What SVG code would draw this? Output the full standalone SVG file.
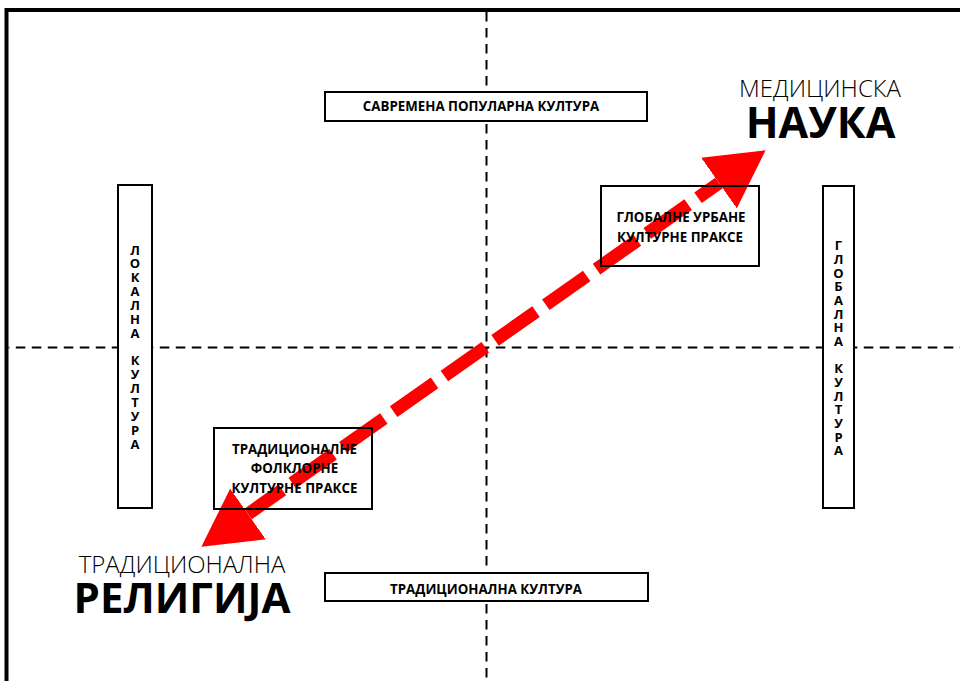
<svg xmlns="http://www.w3.org/2000/svg" width="960" height="681" viewBox="0 0 960 681">
<style>
.frame{fill:none;stroke:#000;stroke-width:4}
.axis{fill:none;stroke:#000;stroke-width:2;stroke-dasharray:9.5 6.5}
.box{fill:#fff;stroke:#000;stroke-width:2}
.box2{fill:none;stroke:#000;stroke-width:2}
.lbl{font-family:"Open Sans","DejaVu Sans",sans-serif;font-weight:bold;font-size:13.3px;fill:#000;text-anchor:middle}
.vl{font-family:"Open Sans","DejaVu Sans",sans-serif;font-weight:bold;font-size:13px;fill:#000;text-anchor:middle}
.thin{font-family:"Open Sans","DejaVu Sans",sans-serif;font-weight:300;font-size:24px;fill:#000;text-anchor:middle}
.big{font-family:"Open Sans","DejaVu Sans",sans-serif;font-weight:bold;font-size:43px;fill:#000;text-anchor:middle}
.big2{font-size:42px}
.arrow{fill:none;stroke:#ff0000;stroke-width:13;stroke-dasharray:50 12;stroke-dashoffset:8}
</style>
<defs>
<marker id="head" markerUnits="userSpaceOnUse" viewBox="0 -31 57 62" refX="0" refY="0" markerWidth="57" markerHeight="62" orient="auto-start-reverse">
<path d="M0,-31 L57,0 L0,31 Z" fill="#ff0000"/>
</marker>
</defs>
<rect width="960" height="681" fill="#fff"/>
<path class="frame" d="M6.5,700 V10 H980"/>
<g id="axes">
<line class="axis" x1="486.5" y1="12" x2="486.5" y2="681"/>
<line class="axis" x1="8.5" y1="347.5" x2="960" y2="347.5" style="stroke-dashoffset:8.7"/>
</g>
<g id="n-savremena">
<rect class="box" x="325" y="92" width="322" height="29"/>
<text class="lbl" x="481" y="110.5">САВРЕМЕНА ПОПУЛАРНА КУЛТУРА</text>
</g>
<g id="n-tradicionalna-kultura">
<rect class="box" x="325" y="573" width="323" height="28"/>
<text class="lbl" x="486" y="593.5">ТРАДИЦИОНАЛНА КУЛТУРА</text>
</g>
<g id="n-lokalna">
<rect class="box" x="118" y="185" width="34" height="323"/>
<text class="vl"><tspan x="135" y="254.5">Л</tspan><tspan x="135" y="268.4">О</tspan><tspan x="135" y="282.2">К</tspan><tspan x="135" y="296.1">А</tspan><tspan x="135" y="309.9">Л</tspan><tspan x="135" y="323.8">Н</tspan><tspan x="135" y="337.7">А</tspan><tspan x="135" y="365.4">К</tspan><tspan x="135" y="379.2">У</tspan><tspan x="135" y="393.1">Л</tspan><tspan x="135" y="406.9">Т</tspan><tspan x="135" y="420.8">У</tspan><tspan x="135" y="434.6">Р</tspan><tspan x="135" y="448.5">А</tspan></text>
</g>
<g id="n-globalna">
<rect class="box" x="823" y="186" width="31" height="322"/>
<text class="vl"><tspan x="838.5" y="250.3">Г</tspan><tspan x="838.5" y="264">Л</tspan><tspan x="838.5" y="277.6">О</tspan><tspan x="838.5" y="291.3">Б</tspan><tspan x="838.5" y="305">А</tspan><tspan x="838.5" y="318.7">Л</tspan><tspan x="838.5" y="332.3">Н</tspan><tspan x="838.5" y="346">А</tspan><tspan x="838.5" y="373.4">К</tspan><tspan x="838.5" y="387">У</tspan><tspan x="838.5" y="400.7">Л</tspan><tspan x="838.5" y="414.4">Т</tspan><tspan x="838.5" y="428">У</tspan><tspan x="838.5" y="441.7">Р</tspan><tspan x="838.5" y="455.4">А</tspan></text>
</g>
<g id="connectors">
<line class="arrow" x1="248" y1="514" x2="719" y2="183" marker-start="url(#head)" marker-end="url(#head)"/>
</g>
<g id="n-globalne-urbane">
<rect class="box2" x="601" y="186" width="158" height="80"/>
<text class="lbl" x="681" y="222">ГЛОБАЛНЕ УРБАНЕ</text>
<text class="lbl" x="680" y="242">КУЛТУРНЕ ПРАКСЕ</text>
</g>
<g id="n-tradicionalne-folklorne">
<rect class="box2" x="214" y="428" width="158" height="81"/>
<text class="lbl" x="294.5" y="453.5">ТРАДИЦИОНАЛНЕ</text>
<text class="lbl" x="294.5" y="473">ФОЛКЛОРНЕ</text>
<text class="lbl" x="294.5" y="493">КУЛТУРНЕ ПРАКСЕ</text>
</g>
<g id="n-nauka">
<text class="thin" x="820" y="97">МЕДИЦИНСКА</text>
<text class="big" x="820.5" y="138">НАУКА</text>
</g>
<g id="n-religija">
<text class="thin" x="182" y="572.5">ТРАДИЦИОНАЛНА</text>
<text class="big big2" x="182" y="613">РЕЛИГИЈА</text>
</g>
</svg>
